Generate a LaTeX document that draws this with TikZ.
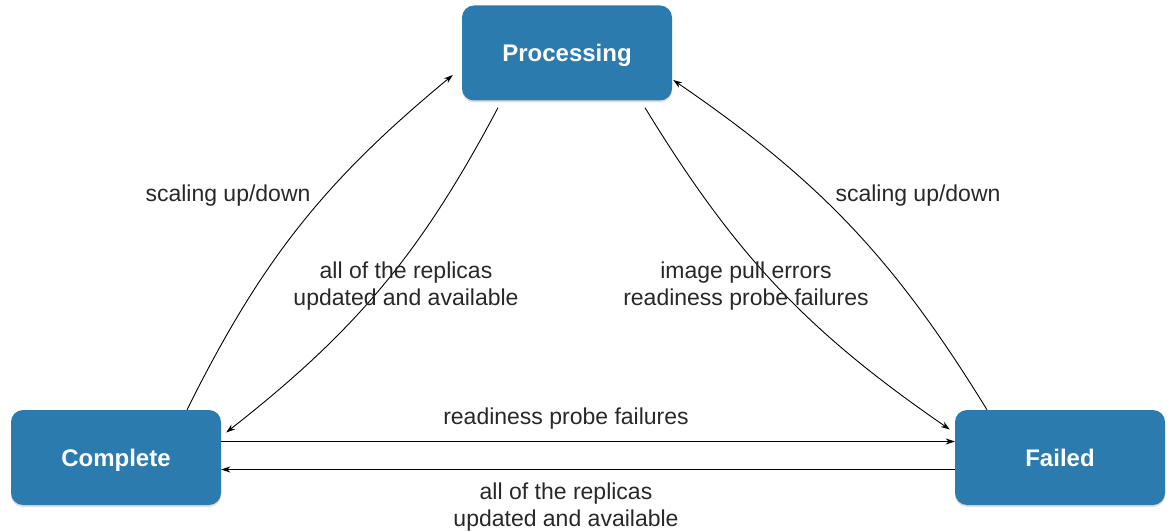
\documentclass[tikz,border=0pt]{standalone}
\usepackage{fontspec}
\setmainfont{Liberation Sans}
\usetikzlibrary{arrows.meta,shadows}
\definecolor{stateblue}{RGB}{44,123,175}
\definecolor{labelgray}{RGB}{40,40,40}
\tikzset{
  state/.style={rectangle, rounded corners=12pt, fill=stateblue, draw=none,
    minimum width=210pt, minimum height=95pt, text=white,
    text height=17pt, text depth=0pt,
    font=\fontsize{24}{28}\selectfont\bfseries,
    drop shadow={opacity=0.25, shadow xshift=0pt, shadow yshift=-2pt}},
  edgelabel/.style={text=labelgray, align=center, font=\fontsize{23}{27}\selectfont, inner sep=0pt},
  curvearrow/.style={line width=0.9pt, -{Stealth[length=9pt,width=6pt]}},
  straightarrow/.style={line width=1.4pt, -{Stealth[length=9pt,width=6pt]}}
}
\begin{document}
\begin{tikzpicture}[x=1pt,y=-1pt]
\useasboundingbox (0,0) rectangle (1173,532);
\node[state] (P) at (567,53) {Processing};
\node[state] (C) at (116,457.5) {Complete};
\node[state] (F) at (1060,457.5) {Failed};

% curved connectors
\draw[curvearrow] ([xshift=71pt]C.north) to[bend left=12] ([xshift=-9pt,yshift=-22pt]P.west);
\draw[curvearrow] ([xshift=-69pt,yshift=-7pt]P.south) to[bend left=12] ([xshift=5pt,yshift=25pt]C.east);
\draw[curvearrow] ([xshift=78pt,yshift=-7pt]P.south) to[bend right=12] ([xshift=-5pt,yshift=28pt]F.west);
\draw[curvearrow] ([xshift=-73pt]F.north) to[bend right=12] ([xshift=1pt,yshift=-27pt]P.east);

% straight connectors
\draw[straightarrow] ([yshift=16pt]C.east) -- ([yshift=16pt]F.west);
\draw[straightarrow] ([yshift=-12pt]F.west) -- ([yshift=-12pt]C.east);

% labels
\node[edgelabel] (l1) at (228,196) {scaling up/down};
\node[edgelabel] (l2) at (918,196) {scaling up/down};
\node[edgelabel] (l3) at (406,286) {all of the replicas\\updated and available};
\node[edgelabel] (l4) at (746,286) {image pull errors\\readiness probe failures};
\node[edgelabel] (l5) at (566,419) {readiness probe failures};
\node[edgelabel] (l6) at (566,507) {all of the replicas\\updated and available};
\end{tikzpicture}
\end{document}
